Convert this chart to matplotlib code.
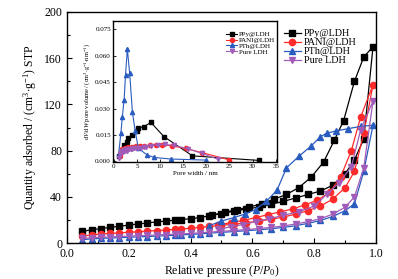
import matplotlib
matplotlib.use("Agg")
import matplotlib.pyplot as plt
from matplotlib.ticker import MultipleLocator, FormatStrFormatter

plt.rcParams['font.family'] = ['Liberation Serif', 'DejaVu Serif']
plt.rcParams['mathtext.fontset'] = 'custom'
plt.rcParams['mathtext.rm'] = 'Liberation Serif'
plt.rcParams['mathtext.it'] = 'Liberation Serif:italic'

# ---------------- main isotherm data ----------------
labels = ["PPy@LDH", "PANI@LDH", "PTh@LDH", "Pure LDH"]
colors = ["#000000", "#ff2a2a", "#2a5cc0", "#a05cb8"]
markers = ["s", "o", "^", "v"]

ads_p = [0.05, 0.08, 0.11, 0.14, 0.17, 0.20, 0.23, 0.26, 0.29, 0.32, 0.35, 0.37,
         0.40, 0.43, 0.46, 0.50, 0.54, 0.58, 0.62, 0.66, 0.70, 0.74, 0.78, 0.82,
         0.86, 0.90, 0.93, 0.96, 0.99]

ppy_ads_q = [10, 11.5, 12.5, 13.5, 14.5, 15.5, 16.5, 17.3, 18.3, 19, 19.8, 20.3,
             21, 22, 23.5, 25.5, 27.5, 29.5, 31, 33.5, 36, 39, 42, 45,
             50, 60, 72, 90, 170]
ppy_des_p = [0.96, 0.93, 0.895, 0.865, 0.83, 0.79, 0.75, 0.71, 0.67, 0.63, 0.59, 0.55, 0.51, 0.47]
ppy_des_q = [161, 140, 106, 89, 70, 57, 48, 42, 38, 34, 31, 29, 26.5, 24]

pani_ads_q = [6, 7, 7.8, 8.3, 8.8, 9.3, 9.8, 10.3, 10.8, 11.3, 11.8, 12.2,
              12.8, 13.5, 14.3, 15.3, 16.3, 17.5, 19, 20.5, 22.5, 25, 28, 32,
              38, 48, 62, 95, 137]
pani_des_p = [0.95, 0.92, 0.885, 0.85, 0.81, 0.77, 0.73, 0.69, 0.65, 0.61, 0.57, 0.53, 0.49]
pani_des_q = [109, 80, 57, 44, 37, 33, 29.5, 27, 24.5, 22, 19.5, 17.5, 16]

pth_ads_q = [3, 3.5, 4, 4.3, 4.6, 5, 5.3, 5.6, 6, 6.3, 6.7, 7,
             7.4, 7.9, 8.5, 9.2, 9.9, 10.6, 11.4, 12.3, 13.5, 15, 17, 19.5,
             23, 28, 34, 62, 102]
pth_des_p = [0.95, 0.91, 0.87, 0.84, 0.82, 0.79, 0.75, 0.71, 0.68, 0.645, 0.61, 0.575, 0.54, 0.50, 0.46]
pth_des_q = [101, 99, 97, 95, 92, 84, 75, 65, 46, 36, 29, 25, 22, 19, 15]

pure_ads_q = [4, 4.5, 5, 5.3, 5.6, 6, 6.3, 6.6, 7, 7.3, 7.6, 7.9,
              8.3, 8.8, 9.4, 10.1, 10.8, 11.6, 12.5, 13.5, 14.8, 16.5, 18.5, 21,
              25, 31, 40, 65, 123]
pure_des_p = [0.95, 0.92, 0.88, 0.84, 0.80, 0.75, 0.70, 0.655, 0.61, 0.57, 0.53, 0.49]
pure_des_q = [98, 66, 52, 42, 32, 27, 24, 21, 18.5, 16, 14, 12]

# ---------------- inset pore size distribution ----------------
ppy_w = [1.0, 1.7, 2.2, 2.8, 3.1, 3.8, 4.9, 5.3, 6.5, 8.0, 10.8, 17.0, 31.5]
ppy_v = [0.003, 0.0064, 0.0092, 0.011, 0.013, 0.0148, 0.0175, 0.0189, 0.0198, 0.0221, 0.0141, 0.0031, 0.0005]

pani_w = [1.3, 1.8, 2.3, 3.0, 3.8, 4.7, 5.6, 6.6, 7.8, 9.0, 10.4, 12.5, 15.5, 19.0, 25.0]
pani_v = [0.003, 0.007, 0.0075, 0.008, 0.0083, 0.0086, 0.0086, 0.0088, 0.0092, 0.0094, 0.0095, 0.0088, 0.0073, 0.005, 0.0008]

pth_w = [1.0, 1.5, 1.8, 2.2, 2.5, 2.9, 3.4, 4.0, 4.6, 5.3, 7.2, 8.7, 12.3, 19.9]
pth_v = [0.004, 0.016, 0.025, 0.035, 0.049, 0.064, 0.050, 0.028, 0.017, 0.0073, 0.0036, 0.0022, 0.0013, 0.0007]

pure_w = [1.2, 1.4, 1.6, 1.8, 2.0, 2.2, 2.4, 2.6, 2.8, 3.0, 3.3, 3.6, 4.0, 4.4, 4.8,
          5.3, 5.8, 6.4, 7.0, 8.0, 9.5, 11.0, 13.0, 16.0, 19.0, 22.5]
pure_v = [0.002, 0.004, 0.005, 0.006, 0.0055, 0.0065, 0.006, 0.0068, 0.006, 0.007, 0.0068,
          0.0072, 0.007, 0.0075, 0.0074, 0.0078, 0.0078, 0.0082, 0.0084, 0.0088, 0.0093,
          0.0096, 0.009, 0.0072, 0.0045, 0.0012]

fig = plt.figure(figsize=(3.98, 2.79), dpi=100)
ax = fig.add_axes([0.168, 0.129, 0.777, 0.828])

main_sets = [
    (ppy_ads_q, ppy_des_p, ppy_des_q),
    (pani_ads_q, pani_des_p, pani_des_q),
    (pth_ads_q, pth_des_p, pth_des_q),
    (pure_ads_q, pure_des_p, pure_des_q),
]
for (aq, dp, dq), lab, c, m in zip(main_sets, labels, colors, markers):
    ax.plot(list(ads_p) + list(dp), list(aq) + list(dq), color=c, marker=m,
            markersize=4.5, linewidth=0.9, label=lab)

ax.set_xlim(0, 1.0)
ax.set_ylim(0, 200)
ax.xaxis.set_major_locator(MultipleLocator(0.2))
ax.xaxis.set_minor_locator(MultipleLocator(0.1))
ax.yaxis.set_major_locator(MultipleLocator(40))
ax.yaxis.set_minor_locator(MultipleLocator(20))
ax.xaxis.set_major_formatter(FormatStrFormatter('%.1f'))
ax.tick_params(which='both', direction='in', top=False, right=False, labelsize=8.5)
ax.tick_params(which='major', length=3.5, width=0.8)
ax.tick_params(which='minor', length=2, width=0.8)
for s in ax.spines.values():
    s.set_linewidth(1.0)
ax.set_xlabel(r"Relative pressure ($P$/$P_0$)", fontsize=8.5, labelpad=2)
ax.set_ylabel(r"Quantity adsorbed / (cm$^3$$\cdot$g$^{-1}$) STP", fontsize=8.5, labelpad=4)

ax.legend(loc='upper left', bbox_to_anchor=(0.695, 0.935), frameon=False,
          fontsize=7.3, handlelength=1.7, handletextpad=0.3,
          labelspacing=0.0, borderpad=0.2, borderaxespad=0)

# ---------------- inset ----------------
ins = fig.add_axes([0.284, 0.418, 0.412, 0.508])
inset_sets = [(ppy_w, ppy_v), (pani_w, pani_v), (pth_w, pth_v), (pure_w, pure_v)]
for (w, v), lab, c, m in zip(inset_sets, labels, colors, markers):
    ins.plot(w, v, color=c, marker=m, markersize=3, linewidth=0.8, label=lab)
ins.set_xlim(-0.2, 35.3)
ins.set_ylim(-0.0006, 0.080)
ins.xaxis.set_major_locator(MultipleLocator(5))
ins.yaxis.set_major_locator(MultipleLocator(0.015))
ins.yaxis.set_major_formatter(FormatStrFormatter('%.3f'))
ins.tick_params(which='both', direction='in', top=False, right=False, labelsize=5, pad=1.5)
ins.tick_params(which='major', length=2, width=0.6)
for s in ins.spines.values():
    s.set_linewidth(1.0)
ins.set_xlabel("Pore width / nm", fontsize=5, labelpad=1)
ins.set_ylabel(r"d$V$/d$W$ pore volume / (cm$^3$$\cdot$g$^{-1}$$\cdot$nm$^{-1}$)", fontsize=4.6, labelpad=2)
ins.legend(loc='upper right', bbox_to_anchor=(0.99, 0.93), frameon=False, fontsize=5,
           handlelength=1.6, handletextpad=0.2, labelspacing=0.0, borderpad=0.1,
           borderaxespad=0)

fig.savefig("out.png", dpi=100)
